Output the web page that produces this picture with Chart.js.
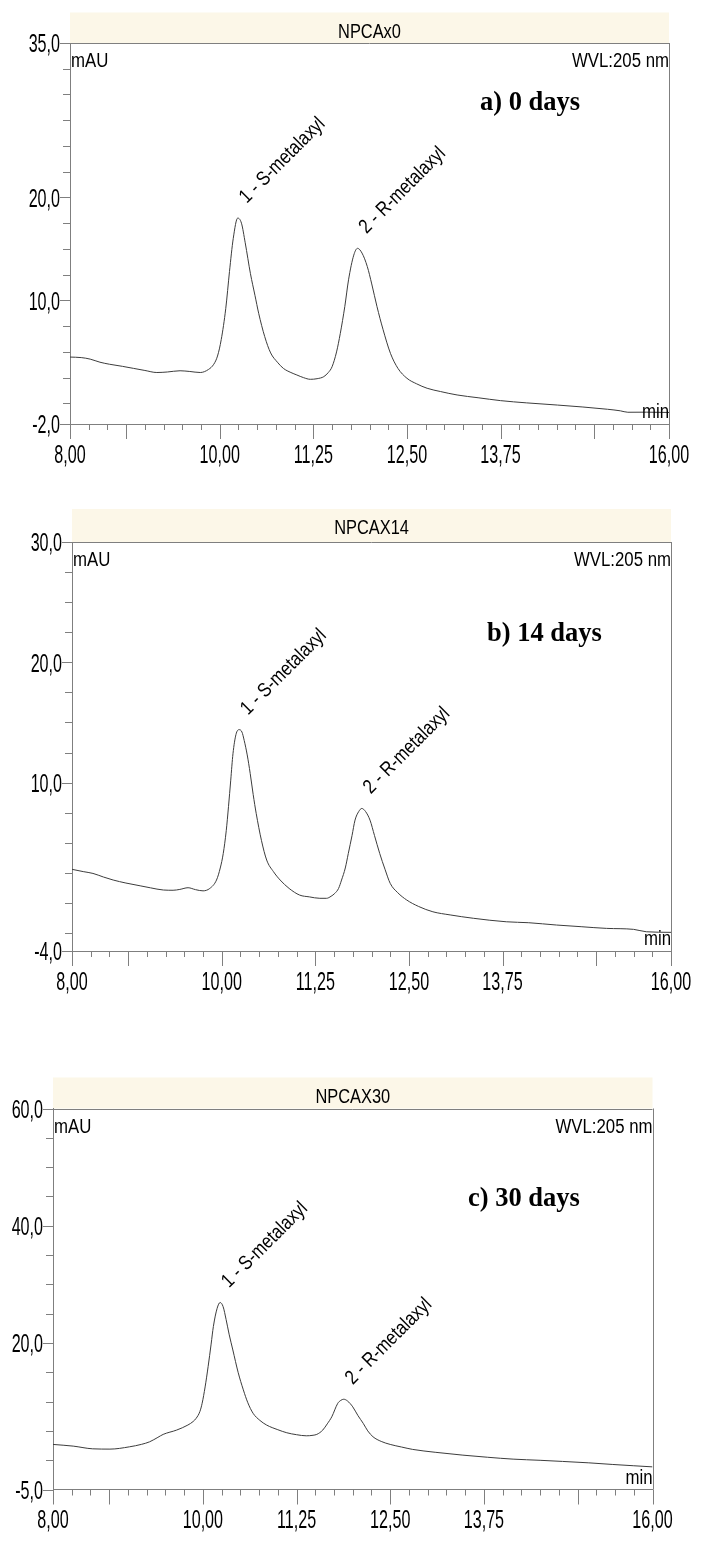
<!DOCTYPE html>
<html lang="en">
<head>
<meta charset="UTF-8">
<title>NPCA chromatograms</title>
<script src="https://cdn.jsdelivr.net/npm/chart.js"></script>
<style>
  body { margin: 0; background: #fff; width: 704px; height: 1544px; position: relative; overflow: hidden; }
  .panel { position: absolute; left: 0; width: 704px; }
  canvas { display: block; }
</style>
</head>
<body>
<div class="panel" style="top:0"><canvas id="chart-a" width="704" height="480"></canvas></div>
<div class="panel" style="top:480px"><canvas id="chart-b" width="704" height="540"></canvas></div>
<div class="panel" style="top:1020px"><canvas id="chart-c" width="704" height="524"></canvas></div>

<script>
// --- data (retention time in min, signal in mAU) ---
const xTickLabels = [8, 10, 11.25, 12.5, 13.75, 16];
const xMajorTicks = [8, 8.75, 10, 11.25, 12.5, 13.75, 15, 16];

const timeA = [8.00, 8.15, 8.27, 8.40, 8.53, 8.70, 8.85, 9.00, 9.16, 9.30, 9.47, 9.60, 9.74, 9.85, 9.92, 9.97,
  10.02, 10.08, 10.13, 10.18, 10.24, 10.29, 10.34, 10.41, 10.47, 10.52, 10.60, 10.68, 10.77, 10.85, 10.95,
  11.03, 11.12, 11.21, 11.30, 11.39, 11.45, 11.50, 11.56, 11.61, 11.67, 11.72, 11.79, 11.84, 11.90, 11.97,
  12.03, 12.10, 12.18, 12.28, 12.38, 12.50, 12.63, 12.77, 12.95, 13.17, 13.45, 13.75, 14.10, 14.51, 14.85,
  15.18, 15.35, 15.45, 15.70, 16.00];
const signalA = [4.5, 4.45, 4.3, 4.0, 3.8, 3.6, 3.4, 3.2, 3.0, 3.05, 3.17, 3.1, 3.0, 3.3, 3.8, 4.6,
  6.2, 9.2, 12.8, 16.0, 18.0, 17.5, 15.6, 12.6, 10.5, 8.75, 6.5, 4.9, 4.0, 3.4, 3.0,
  2.76, 2.5, 2.34, 2.4, 2.6, 3.0, 3.56, 5.0, 6.8, 9.4, 12.0, 14.4, 15.06, 14.6, 13.3,
  11.6, 9.4, 7.2, 4.86, 3.4, 2.44, 1.9, 1.47, 1.15, 0.82, 0.55, 0.27, 0.05, -0.16, -0.35,
  -0.57, -0.72, -0.86, -0.85, -0.88];

const timeB = [8.00, 8.15, 8.28, 8.42, 8.55, 8.72, 8.91, 9.05, 9.22, 9.35, 9.44, 9.55, 9.65, 9.75, 9.84, 9.93,
  9.98, 10.02, 10.06, 10.09, 10.12, 10.15, 10.19, 10.23, 10.27, 10.30, 10.34, 10.38, 10.42, 10.46, 10.53,
  10.60, 10.69, 10.78, 10.90, 11.04, 11.17, 11.31, 11.40, 11.46, 11.51, 11.56, 11.60, 11.65, 11.69, 11.74,
  11.78, 11.83, 11.87, 11.92, 11.98, 12.04, 12.11, 12.18, 12.25, 12.35, 12.47, 12.63, 12.82, 13.05, 13.36,
  13.80, 14.10, 14.47, 14.80, 15.14, 15.50, 15.67, 16.00];
const signalB = [2.79, 2.6, 2.45, 2.15, 1.9, 1.65, 1.42, 1.25, 1.07, 1.05, 1.12, 1.26, 1.1, 1.0, 1.2, 1.9,
  2.9, 4.1, 6.0, 8.0, 10.2, 12.4, 14.0, 14.4, 14.2, 13.5, 12.3, 10.76, 9.0, 7.44, 5.2,
  3.56, 2.6, 1.9, 1.2, 0.65, 0.5, 0.38, 0.38, 0.55, 0.79, 1.2, 1.9, 2.9, 4.1, 5.6,
  6.88, 7.6, 7.85, 7.6, 6.88, 5.6, 4.1, 2.8, 1.62, 0.85, 0.24, -0.3, -0.74, -1.0, -1.28,
  -1.57, -1.65, -1.84, -1.98, -2.12, -2.2, -2.4, -2.45];

const timeC = [8.00, 8.27, 8.53, 8.76, 9.02, 9.18, 9.29, 9.40, 9.47, 9.65, 9.80, 9.87, 9.91, 9.96, 9.99,
  10.03, 10.07, 10.11, 10.14, 10.19, 10.23, 10.27, 10.31, 10.35, 10.40, 10.47, 10.54, 10.60, 10.67, 10.76,
  10.85, 11.00, 11.12, 11.25, 11.38, 11.47, 11.52, 11.56, 11.60, 11.66, 11.72, 11.80, 11.84, 11.88, 11.93,
  12.00, 12.07, 12.14, 12.20, 12.27, 12.38, 12.50, 12.65, 12.80, 13.10, 13.47, 13.80, 14.14, 14.50, 14.80,
  15.15, 15.47, 15.75, 16.00];
const signalC = [2.69, 2.4, 1.94, 1.89, 2.28, 2.7, 3.14, 3.9, 4.4, 5.14, 6.0, 6.6, 7.14, 8.3, 9.7,
  12.5, 15.96, 19.8, 22.8, 25.9, 26.9, 26.2, 24.0, 21.5, 18.8, 15.0, 12.0, 9.8, 8.0, 6.8,
  6.0, 5.2, 4.68, 4.35, 4.16, 4.25, 4.4, 4.7, 5.14, 6.2, 7.4, 9.7, 10.2, 10.4, 10.1,
  9.1, 7.6, 6.28, 5.0, 4.0, 3.2, 2.69, 2.25, 1.84, 1.35, 0.86, 0.5, 0.18, -0.02, -0.21,
  -0.45, -0.73, -0.95, -1.14];

const peakNames = ['1 - S-metalaxyl', '2 - R-metalaxyl'];
const peaksA = [[10.24, 18.0], [11.84, 15.06]];
const peaksB = [[10.23, 14.4], [11.87, 7.85]];
const peaksC = [[10.23, 26.9], [11.88, 10.4]];

const SANS = "'Liberation Sans', Arial, sans-serif";
const SERIF = "'Liberation Serif', 'Times New Roman', serif";
const AXIS_GREY = '#7f7f7f';
const TEXT_SQUEEZE = 0.84;   // Liberation Sans squeezed to look like Arial Narrow
const TICK_SQUEEZE = 0.62;   // tick numbers are even taller and narrower
const TICK_SIZE = 26;

const fmtComma = (v, d) => v.toFixed(d).replace('.', ',');

function narrowText(ctx, text, x, y, align, size, squeeze, angle) {
  ctx.save();
  ctx.translate(x, y);
  if (angle) ctx.rotate(angle);
  ctx.scale(squeeze, 1);
  ctx.font = size + 'px ' + SANS;
  ctx.textAlign = align;
  ctx.textBaseline = 'alphabetic';
  ctx.fillText(text, 0, 0);
  ctx.restore();
}

// draws the header band, border, tick marks, tick numbers and the in-plot texts
const chromDecor = {
  id: 'chromDecor',
  beforeDraw(chart, args, o) {
    const { ctx, chartArea: a } = chart;
    ctx.save();
    ctx.fillStyle = '#fcf7e8';
    ctx.fillRect(a.left, o.bandTop, a.right - a.left, a.top - o.bandTop);
    ctx.restore();
  },
  afterDraw(chart, args, o) {
    const { ctx, chartArea: a } = chart;
    const xs = chart.scales.x, ys = chart.scales.y;
    ctx.save();
    ctx.strokeStyle = AXIS_GREY;
    ctx.lineWidth = 1;
    ctx.beginPath();
    // top + right border
    ctx.moveTo(a.left, Math.round(a.top) + 0.5); ctx.lineTo(a.right, Math.round(a.top) + 0.5);
    ctx.moveTo(Math.round(a.right) + 0.5, a.top); ctx.lineTo(Math.round(a.right) + 0.5, a.bottom);
    // x ticks: minor every 0.25 min, long ones at the majors
    for (let v = 8; v <= 16.001; v += 0.25) {
      const px = Math.round(xs.getPixelForValue(v)) + 0.5;
      const len = xMajorTicks.some(m => Math.abs(m - v) < 1e-6) ? 15 : 6;
      ctx.moveTo(px, a.bottom); ctx.lineTo(px, a.bottom + len);
    }
    // y ticks
    for (let v = Math.ceil(o.yMin / o.yStep) * o.yStep; v <= o.yMax + 1e-6; v += o.yStep) {
      const py = Math.round(ys.getPixelForValue(v)) + 0.5;
      const len = o.yLabels.includes(v) ? 10 : 7;
      ctx.moveTo(a.left - len, py); ctx.lineTo(a.left, py);
    }
    const pyMin = Math.round(ys.getPixelForValue(o.yMin)) + 0.5;
    ctx.moveTo(a.left - 10, pyMin); ctx.lineTo(a.left, pyMin);
    ctx.stroke();

    ctx.fillStyle = '#000';
    // tick numbers, from the scales' own ticks
    xs.ticks.forEach((t, i) => {
      narrowText(ctx, t.label ?? fmtComma(t.value, 2), xs.getPixelForTick(i),
        a.bottom + 20 + TICK_SIZE * 0.716, 'center', TICK_SIZE, TICK_SQUEEZE);
    });
    ys.ticks.forEach((t, i) => {
      narrowText(ctx, t.label ?? fmtComma(t.value, 1), a.left - 10,
        ys.getPixelForTick(i) + TICK_SIZE * 0.358, 'right', TICK_SIZE, TICK_SQUEEZE);
    });

    narrowText(ctx, o.name, (a.left + a.right) / 2, o.bandTop + 25, 'center', 20, 0.82);
    narrowText(ctx, 'mAU', a.left + 1, a.top + 24, 'left', 20, TEXT_SQUEEZE);
    narrowText(ctx, 'WVL:205 nm', a.right, a.top + 24, 'right', 20, TEXT_SQUEEZE);
    narrowText(ctx, 'min', a.right, a.bottom - 6, 'right', 20, TEXT_SQUEEZE);

    ctx.font = 'bold 26.5px ' + SERIF;
    ctx.textAlign = 'left';
    ctx.textBaseline = 'alphabetic';
    ctx.fillText(o.days, o.daysX, a.top + o.daysDy);

    o.peaks.forEach((p, i) => {
      const px = xs.getPixelForValue(p[0]);
      const py = ys.getPixelForValue(p[1]);
      narrowText(ctx, peakNames[i], px + 9, py - 14, 'left', 20, TEXT_SQUEEZE, -Math.PI / 4);
    });
    ctx.restore();
  }
};

function makeChart(id, times, signal, panel) {
  const canvas = document.getElementById(id);
  const H = canvas.height;
  return new Chart(canvas, {
    type: 'line',
    data: {
      datasets: [{
        data: times.map((t, i) => ({ x: t, y: signal[i] })),
        borderColor: '#3c3c3c',
        borderWidth: 1,
        pointRadius: 0,
        cubicInterpolationMode: 'monotone',
        fill: false
      }]
    },
    options: {
      responsive: false,
      animation: false,
      events: [],
      layout: { padding: { top: panel.top, right: 704 - panel.right, left: 0, bottom: 0 } },
      plugins: {
        legend: { display: false },
        tooltip: { enabled: false },
        title: { display: false },
        chromDecor: panel
      },
      scales: {
        x: {
          type: 'linear',
          min: 8, max: 16,
          afterBuildTicks: s => { s.ticks = xTickLabels.map(v => ({ value: v })); },
          afterFit: s => { s.height = H - panel.bottom; s.paddingLeft = 0; s.paddingRight = 0; },
          grid: { display: false, drawTicks: false },
          border: { display: true, color: AXIS_GREY, width: 1 },
          ticks: { display: false, autoSkip: false, maxRotation: 0, callback: v => fmtComma(v, 2) }
        },
        y: {
          type: 'linear',
          min: panel.yMin, max: panel.yMax,
          afterBuildTicks: s => { s.ticks = panel.yLabels.map(v => ({ value: v })); },
          afterFit: s => { s.width = panel.left; s.paddingTop = 0; s.paddingBottom = 0; },
          grid: { display: false, drawTicks: false },
          border: { display: true, color: AXIS_GREY, width: 1 },
          ticks: { display: false, autoSkip: false, callback: v => fmtComma(v, 1) }
        }
      }
    },
    plugins: [chromDecor]
  });
}

makeChart('chart-a', timeA, signalA, {
  name: 'NPCAx0', days: 'a) 0 days', daysX: 480, daysDy: 67,
  left: 70, right: 669, top: 43, bottom: 424, bandTop: 12.5,
  yMin: -2, yMax: 35, yStep: 2.5, yLabels: [35, 20, 10, -2], peaks: peaksA
});
makeChart('chart-b', timeB, signalB, {
  name: 'NPCAX14', days: 'b) 14 days', daysX: 487, daysDy: 99,
  left: 72, right: 671, top: 62, bottom: 471, bandTop: 29,
  yMin: -4, yMax: 30, yStep: 2.5, yLabels: [30, 20, 10, -4], peaks: peaksB
});
makeChart('chart-c', timeC, signalC, {
  name: 'NPCAX30', days: 'c) 30 days', daysX: 468, daysDy: 97,
  left: 53, right: 652.5, top: 88.5, bottom: 469.5, bandTop: 57.5,
  yMin: -5, yMax: 60, yStep: 5, yLabels: [60, 40, 20, -5], peaks: peaksC
});
</script>
</body>
</html>
